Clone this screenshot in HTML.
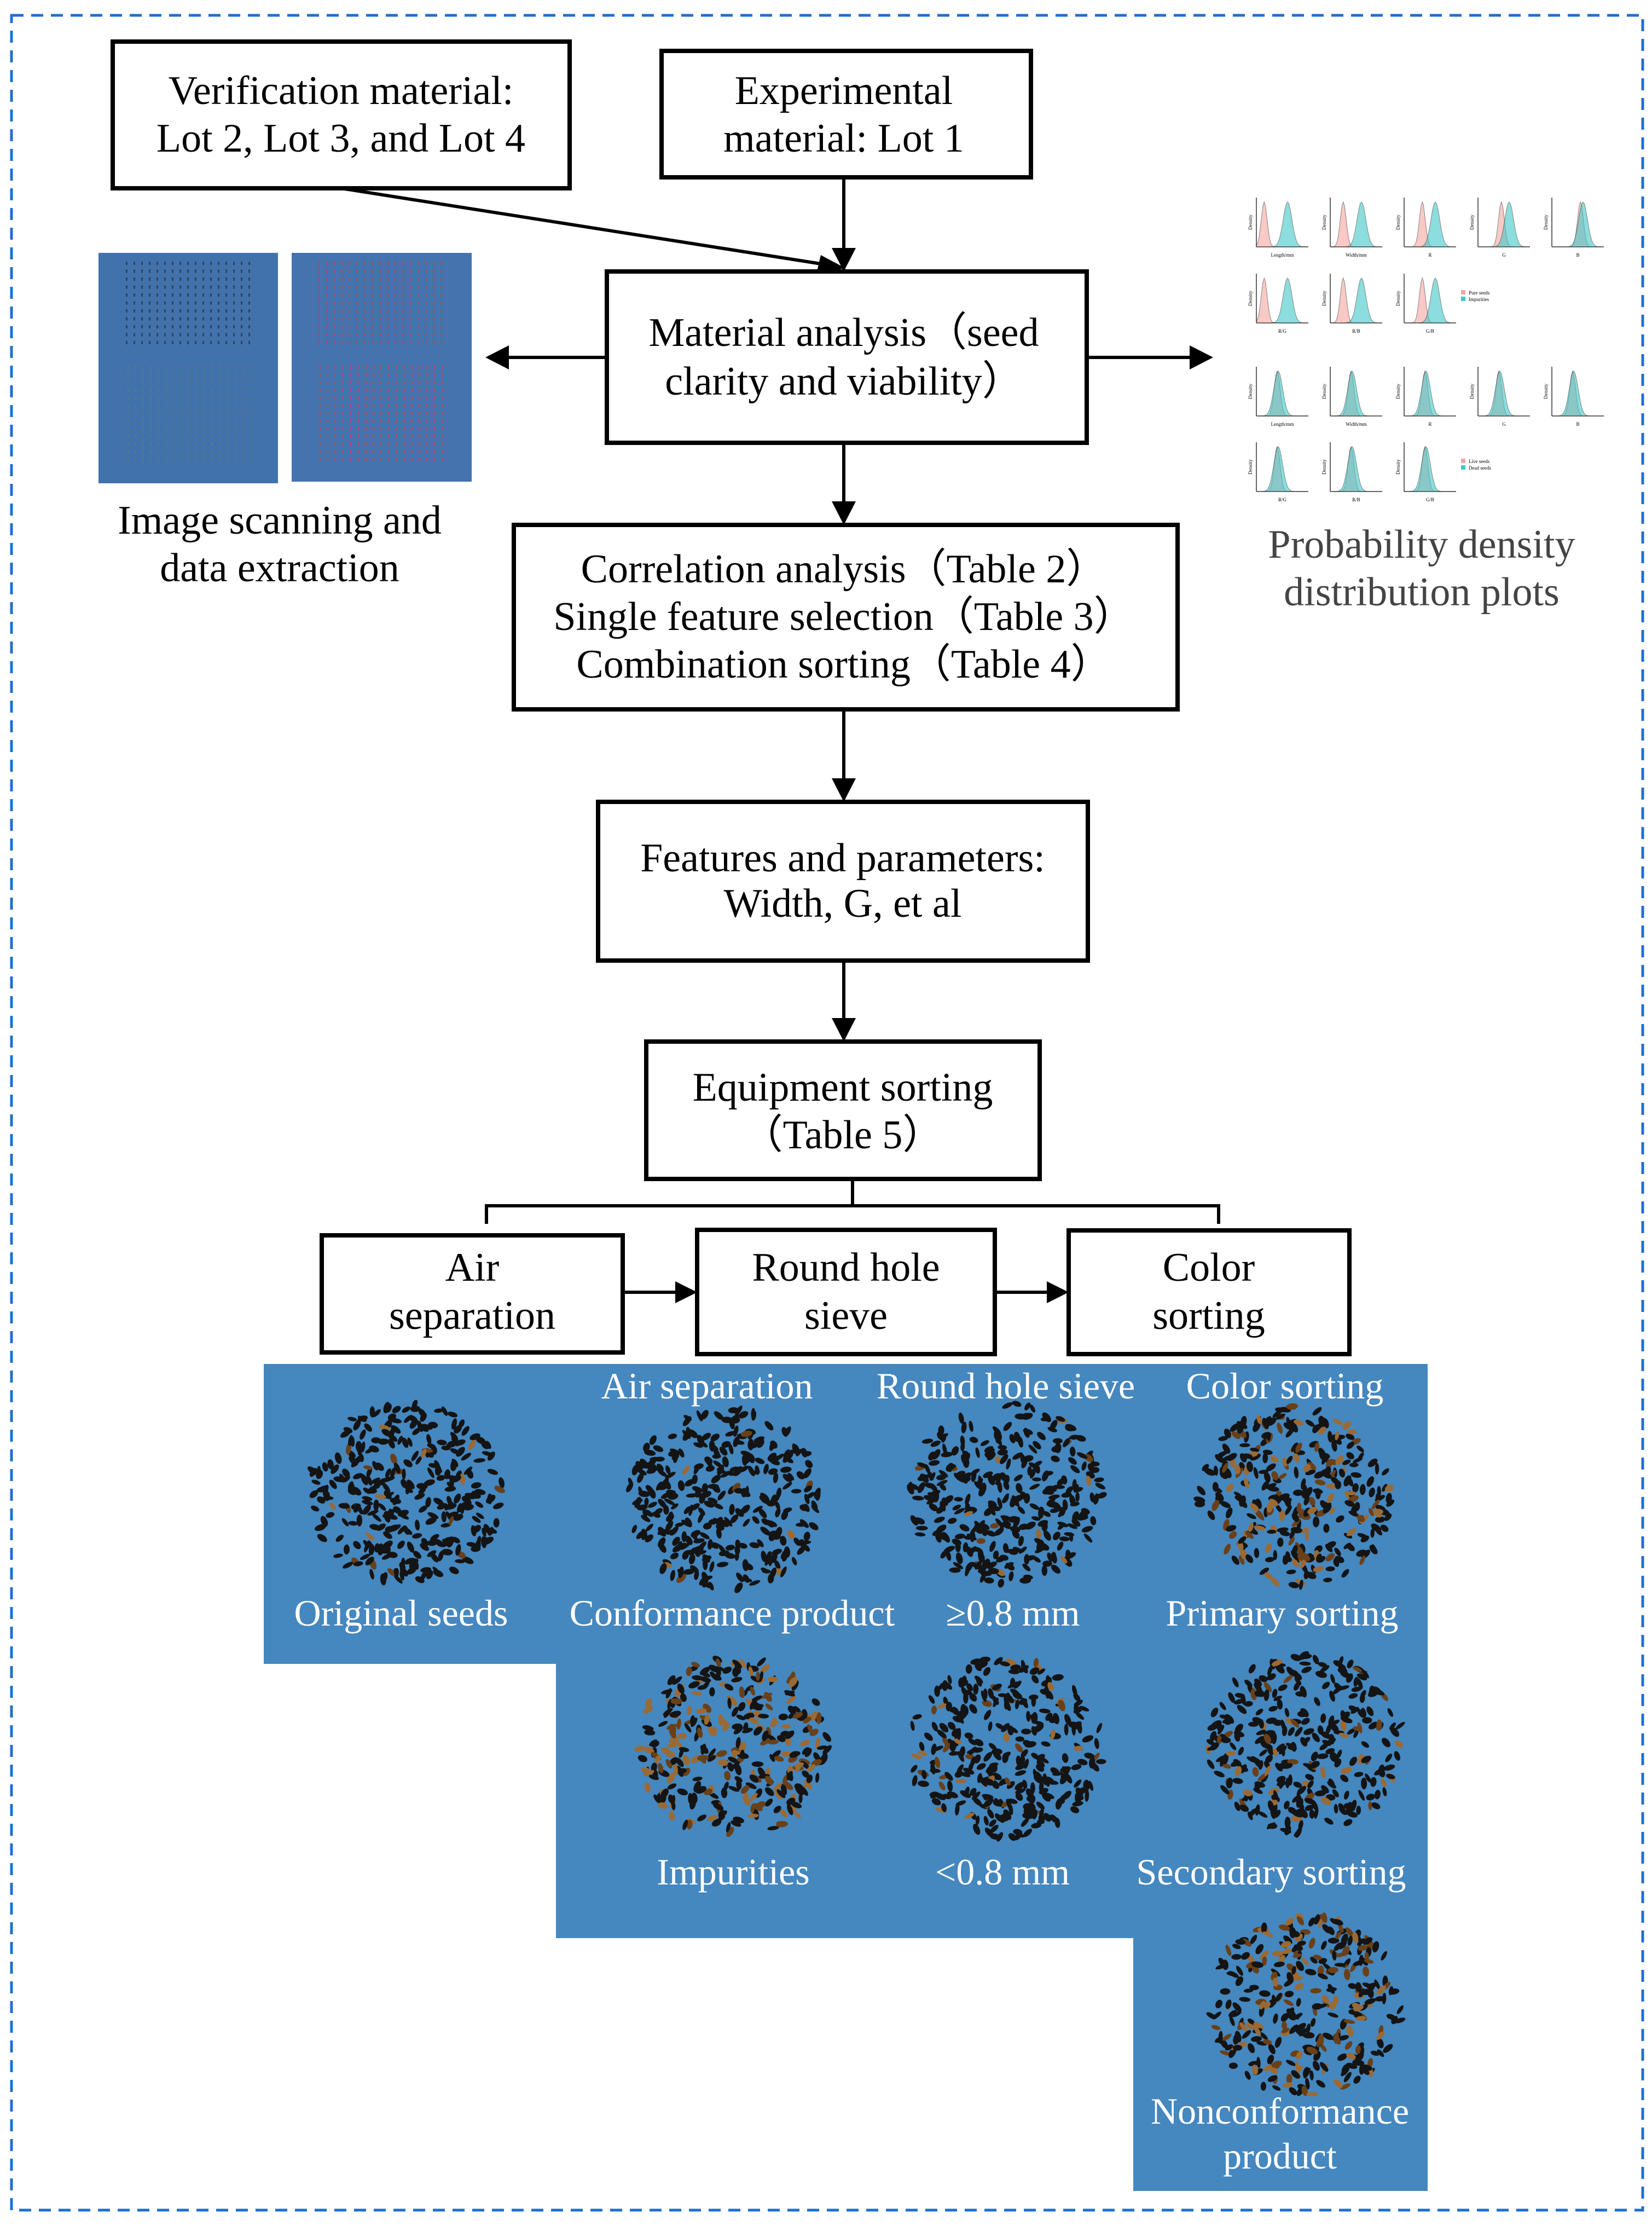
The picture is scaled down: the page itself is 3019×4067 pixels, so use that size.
<!DOCTYPE html>
<html><head><meta charset="utf-8">
<style>
html,body{margin:0;padding:0;background:#fff;}
body{width:3019px;height:4067px;overflow:hidden;}
svg{display:block;}
text{font-family:"Liberation Serif",serif;}
</style></head>
<body>
<svg id="s" width="3019" height="4067" viewBox="0 0 3019 4067" xmlns="http://www.w3.org/2000/svg">
<rect x="0" y="0" width="3019" height="4067" fill="#fff"/>
<rect x="21" y="28" width="2981" height="4010" fill="none" stroke="#1f6fd0" stroke-width="5" stroke-dasharray="22,14"/>

<rect x="180" y="462" width="328" height="421" fill="#4272ab"/>
<rect x="533" y="462" width="329" height="418" fill="#4473ad"/>
<g id="scan"></g>

<path d="M482 2492 H2609 V4003 H2071 V3541 H1016 V3040 H482 Z" fill="#4587bf"/>
<g id="seeds"></g>
<g id="plots"></g>

<g fill="none" stroke="#000" stroke-width="8">
<rect x="206" y="76" width="835" height="268"/>
<rect x="1209" y="93" width="675" height="231"/>
<rect x="1109" y="496" width="877" height="313"/>
<rect x="939" y="959" width="1213" height="337"/>
<rect x="1093" y="1465" width="895" height="290"/>
<rect x="1181" y="1903" width="719" height="251"/>
<rect x="588" y="2257" width="550" height="214"/>
<rect x="1274" y="2247" width="544" height="227"/>
<rect x="1953" y="2248" width="513" height="226"/>
</g>
<g stroke="#000" stroke-width="6" fill="none">
<line x1="623" y1="344" x2="1500" y2="482"/>
<line x1="1542" y1="324" x2="1542" y2="460"/>
<line x1="1109" y1="653" x2="925" y2="653"/>
<line x1="1986" y1="653" x2="2180" y2="653"/>
<line x1="1542" y1="809" x2="1542" y2="920"/>
<line x1="1542" y1="1296" x2="1542" y2="1425"/>
<line x1="1542" y1="1755" x2="1542" y2="1865"/>
<path d="M1558 2154 V2203 M889 2236 V2203 H2227 V2236"/>
<line x1="1138" y1="2361" x2="1240" y2="2361"/>
<line x1="1818" y1="2361" x2="1918" y2="2361"/>
</g>
<g fill="#000">
<polygon points="1542,496 1520,453 1564,453"/>
<polygon points="1545,490 1500,466 1492,500"/>
<polygon points="887,653 930,631 930,675"/>
<polygon points="2217,653 2174,631 2174,675"/>
<polygon points="1542,959 1520,916 1564,916"/>
<polygon points="1542,1465 1520,1422 1564,1422"/>
<polygon points="1542,1903 1520,1860 1564,1860"/>
<polygon points="1274,2361 1234,2341 1234,2381"/>
<polygon points="1953,2361 1913,2341 1913,2381"/>
</g>

<g font-size="74" text-anchor="middle" fill="#000">
<text x="623" y="190">Verification material:</text>
<text x="623" y="277">Lot 2, Lot 3, and Lot 4</text>
<text x="1542" y="190">Experimental</text>
<text x="1542" y="277">material: Lot 1</text>
<text x="1542" y="632">Material analysis（seed</text>
<text x="1542" y="721">clarity and viability）</text>
<text x="1542" y="1064">Correlation analysis（Table 2）</text>
<text x="1542" y="1151">Single feature selection（Table 3）</text>
<text x="1542" y="1238">Combination sorting（Table 4）</text>
<text x="1540" y="1592">Features and parameters:</text>
<text x="1540" y="1675">Width, G, et al</text>
<text x="1540" y="2011">Equipment sorting</text>
<text x="1540" y="2098">（Table 5）</text>
<text x="863" y="2340">Air</text>
<text x="863" y="2428">separation</text>
<text x="1546" y="2340">Round hole</text>
<text x="1546" y="2428">sieve</text>
<text x="2209" y="2340">Color</text>
<text x="2209" y="2428">sorting</text>
<text x="511" y="975">Image scanning and</text>
<text x="511" y="1062">data extraction</text>
<text x="2598" y="1019" fill="#444">Probability density</text>
<text x="2598" y="1106" fill="#444">distribution plots</text>
</g>
<g font-size="68" text-anchor="middle" fill="#fff">
<text x="1292" y="2555">Air separation</text>
<text x="1838" y="2555">Round hole sieve</text>
<text x="2348" y="2555">Color sorting</text>
<text x="733" y="2970">Original seeds</text>
<text x="1338" y="2970">Conformance product</text>
<text x="1851" y="2970">≥0.8 mm</text>
<text x="2343" y="2970">Primary sorting</text>
<text x="1340" y="3443">Impurities</text>
<text x="1832" y="3443">&lt;0.8 mm</text>
<text x="2323" y="3443">Secondary sorting</text>
<text x="2339" y="3880">Nonconformance</text>
<text x="2339" y="3962">product</text>
</g>
</svg>
<script>
(function(){
var NS="http://www.w3.org/2000/svg";
var seed=12345;function r(){seed=(seed*16807)%2147483647;return seed/2147483647;}
function el(p,t,a){var e=document.createElementNS(NS,t);for(var k in a)e.setAttribute(k,a[k]);p.appendChild(e);return e;}
var sc=document.getElementById('scan');
function grid(x0,y0,cols,rows,dx,dy,col,op){for(var i=0;i<rows;i++)for(var j=0;j<cols;j++){el(sc,'rect',{x:x0+j*dx,y:y0+i*dy,width:3,height:6,fill:col,opacity:op});}}
grid(230,478,17,11,14,14.5,'#2a2f3a',0.7);
grid(232,668,17,13,14,14,'#6a7a6a',0.45);
grid(581,478,17,11,14,14.5,'#c0404a',0.75);
grid(583,668,17,13,14,14,'#d0404a',0.75);
var sg=document.getElementById('seeds');
var circ=[[742,2728,0.05],[1326,2740,0.03],[1837,2728,0.06],[2368,2734,0.3],[1340,3193,0.45],[1837,3193,0.1],[2385,3186,0.12],[2385,3664,0.35]];
circ.forEach(function(c){
 for(var n=0;n<330;n++){
  var a=r()*Math.PI*2,d=Math.sqrt(r());
  var x=c[0]+Math.cos(a)*d*178,y=c[1]+Math.sin(a)*d*165;
  var br=r()<c[2];
  el(sg,'ellipse',{cx:x.toFixed(1),cy:y.toFixed(1),rx:(3.5+r()*2.5).toFixed(1),ry:(8+r()*3).toFixed(1),
   transform:'rotate('+(r()*180).toFixed(0)+' '+x.toFixed(1)+' '+y.toFixed(1)+')',
   fill:br?(r()<0.5?'#6a4018':'#9a6a35'):'#141414'});
 }
});
var pg=document.getElementById('plots');
var cols=[2278,2413,2548,2683,2818],rows=[[353,5,0],[492,3,0],[662,5,1],[800,3,1]];
rows.forEach(function(rw){
 for(var j=0;j<rw[1];j++){
  var x=cols[j]+18,y=rw[0]+8,w=95,h=90;
  el(pg,'line',{x1:x,y1:y,x2:x,y2:y+h,stroke:'#333','stroke-width':1.5});
  el(pg,'line',{x1:x,y1:y+h,x2:x+w,y2:y+h,stroke:'#333','stroke-width':1.5});
  var p1=rw[2]?0.4:0.15+0.1*j,p2=rw[2]?0.42:0.6;
  function curve(pk,wd,col){var d='M'+x+' '+(y+h);for(var t=0;t<=40;t++){var u=t/40;var v=Math.exp(-Math.pow((u-pk)/wd,2));d+=' L'+(x+u*w).toFixed(1)+' '+(y+h-v*(h-8)).toFixed(1);}d+=' Z';el(pg,'path',{d:d,fill:col,stroke:'#333','stroke-width':1,opacity:0.6});}
  curve(p1,0.08,'#f4a6a0');curve(p2,0.12,'#40c8c8');
  el(pg,'text',{x:x-8,y:y+h/2,'font-size':9,'font-family':'Liberation Sans, sans-serif',transform:'rotate(-90 '+(x-8)+' '+(y+h/2)+')','text-anchor':'middle'}).textContent='Density';
  var lab=rw[1]==5?['Length/mm','Width/mm','R','G','B'][j]:['R/G','R/B','G/B'][j];
  el(pg,'text',{x:x+w/2,y:y+h+18,'font-size':9,'font-family':'Liberation Sans, sans-serif','text-anchor':'middle'}).textContent=lab;
 }
});
function leg(y,a,b){el(pg,'rect',{x:2670,y:y,width:8,height:8,fill:'#f4a6a0'});el(pg,'rect',{x:2670,y:y+12,width:8,height:8,fill:'#40c8c8'});
el(pg,'text',{x:2684,y:y+8,'font-size':9,'font-family':'Liberation Sans, sans-serif'}).textContent=a;
el(pg,'text',{x:2684,y:y+20,'font-size':9,'font-family':'Liberation Sans, sans-serif'}).textContent=b;}
leg(530,'Pure seeds','Impurities');leg(838,'Live seeds','Dead seeds');
})();
</script>
</body></html>
